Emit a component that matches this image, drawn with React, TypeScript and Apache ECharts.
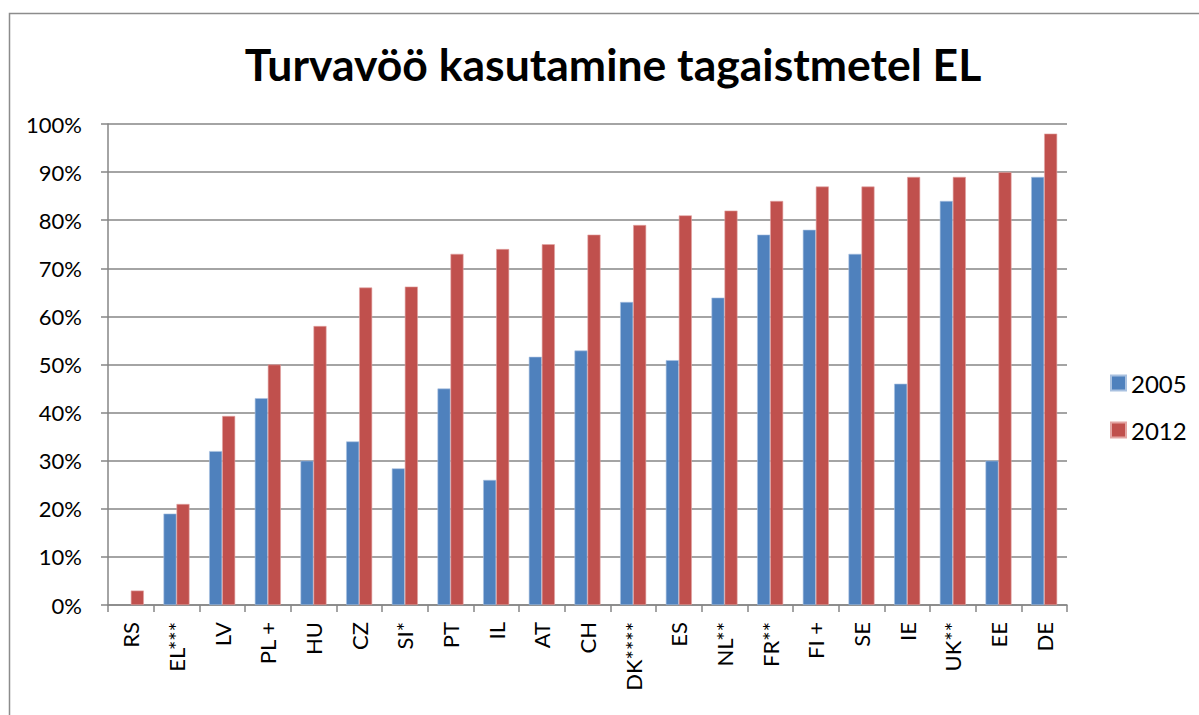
import React, { useEffect, useRef } from "react";
import * as echarts from "echarts";

const categories = ["RS", "EL***", "LV", "PL +", "HU", "CZ", "SI*", "PT", "IL", "AT", "CH", "DK****", "ES", "NL**", "FR**", "FI +", "SE", "IE", "UK**", "EE", "DE"];
const values2005: (number | null)[] = [null, 19, 32, 43, 30, 34, 28.4, 45, 26, 51.6, 52.9, 63, 50.9, 63.9, 77, 78, 73, 46, 84, 30, 89];
const values2012: (number | null)[] = [3, 21, 39.3, 50, 58, 66, 66.2, 73, 74, 75, 77, 79, 81, 82, 84, 87, 87, 89, 89, 90, 98];
const seriesNames = ["2005", "2012"];
const seriesColors = ["#4F81BD", "#C0504D"];
const titleText = "Turvavöö kasutamine tagaistmetel EL";

const FONT = "Lato, 'Open Sans', sans-serif";

export default function App() {
  const ref = useRef<HTMLDivElement>(null);
  useEffect(() => {
    if (!ref.current) return;
    const chart = echarts.init(ref.current, null, { renderer: "svg" });
    chart.setOption({
      animation: false,
      backgroundColor: "#ffffff",
      graphic: [
        {
          type: "rect",
          left: 7,
          top: 11,
          shape: { width: 1220, height: 740 },
          style: { fill: "none", stroke: "#8c8c8c", lineWidth: 1.5 },
          silent: true,
          z: -1,
        },
      ],
      title: {
        text: titleText,
        left: 608,
        textAlign: "center",
        top: 36,
        textStyle: { fontFamily: FONT, fontWeight: "bold", fontSize: 44.5, color: "#000" },
      },
      legend: {
        orient: "vertical",
        left: 1105,
        top: 366,
        itemWidth: 15,
        itemHeight: 15,
        itemGap: 23,
        icon: "rect",
        textStyle: { fontFamily: FONT, fontSize: 24, color: "#000", padding: [0, 0, 0, 0] },
        data: seriesNames,
      },
      grid: { left: 108, right: 132, top: 124, bottom: 110, containLabel: false },
      xAxis: {
        type: "category",
        data: categories,
        axisLine: { lineStyle: { color: "#868686", width: 1.5 } },
        axisTick: { show: true, length: 7, lineStyle: { color: "#868686", width: 1.5 } },
        axisLabel: {
          rotate: 90,
          interval: 0,
          margin: 17,
          fontFamily: FONT,
          fontSize: 22,
          color: "#000",
        },
      },
      yAxis: {
        type: "value",
        min: 0,
        max: 100,
        interval: 10,
        axisLine: { show: true, lineStyle: { color: "#868686", width: 1.5 } },
        axisTick: { show: true, length: 7, lineStyle: { color: "#868686", width: 1.5 } },
        splitLine: { lineStyle: { color: "#868686", width: 1.5 } },
        axisLabel: {
          formatter: "{value}%",
          margin: 26,
          fontFamily: FONT,
          fontSize: 22,
          color: "#000",
        },
      },
      series: [
        {
          name: seriesNames[0],
          type: "bar",
          data: values2005,
          barWidth: 13,
          barGap: "0%",
          itemStyle: { color: seriesColors[0], borderColor: "#a9c1e0", borderWidth: 0.6 },
        },
        {
          name: seriesNames[1],
          type: "bar",
          data: values2012,
          barWidth: 13,
          barGap: "0%",
          itemStyle: { color: seriesColors[1], borderColor: "#e3a5a3", borderWidth: 0.6 },
        },
      ],
    });
    return () => chart.dispose();
  }, []);
  return (
    <div
      ref={ref}
      style={{ position: "fixed", left: 0, top: 0, width: 1199, height: 715 }}
    />
  );
}
